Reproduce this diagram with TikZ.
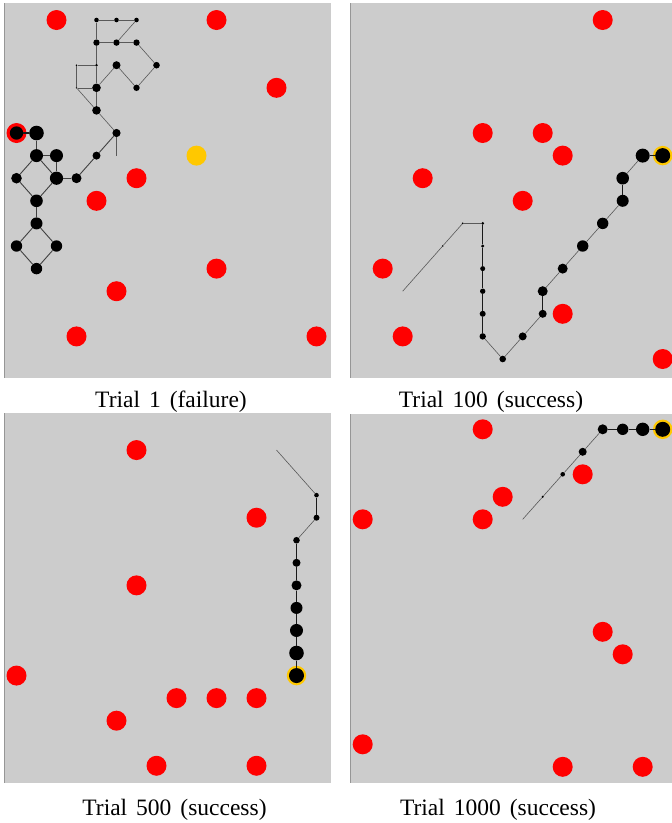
\documentclass[tikz,border=0pt]{standalone}
\usepackage{fontspec}
\setmainfont{Liberation Serif}
\definecolor{panelgray}{RGB}{204,204,204}
\definecolor{obsred}{RGB}{255,0,0}
\definecolor{goalyel}{RGB}{255,200,0}
\definecolor{bordergray}{RGB}{150,150,150}
\tikzset{
  panel/.style={fill=panelgray},
  obs/.style={circle, fill=obsred, inner sep=0pt, minimum size=20pt},
  goal/.style={circle, fill=goalyel, inner sep=0pt, minimum size=19.5pt},
  dot/.style={circle, fill=black, inner sep=0pt},
  thinline/.style={draw=black!65, line width=0.6pt},
  midline/.style={draw=black!75, line width=0.9pt},
  thickline/.style={draw=black!90, line width=1.3pt},
  captext/.style={font={\fontsize{23.5}{27}\selectfont\spaceskip=9pt plus 1pt}, inner sep=0pt, anchor=base}
}
\newcommand\dotat[4]{\node[dot,minimum size=#4pt] (#1) at (#2,#3) {};}
\newcommand\obsat[3]{\node[obs] (#1) at (#2,#3) {};}
\begin{document}
\begin{tikzpicture}[x=1pt,y=-1pt]
\path[use as bounding box] (0,0) rectangle (672,823);
% panels
\fill[panel] (4,3) rectangle (331,378);
\fill[panel] (350,3) rectangle (672,378);
\fill[panel] (4,413) rectangle (331,783);
\fill[panel] (350,414) rectangle (672,783);
\draw[bordergray, line width=0.8pt] (4.4,3) -- (4.4,378);
\draw[bordergray, line width=0.8pt] (350.4,3) -- (350.4,378);
\draw[bordergray, line width=0.8pt] (4.4,413) -- (4.4,783);
\draw[bordergray, line width=0.8pt] (350.4,414) -- (350.4,783);

% ---------------- Panel 1 ----------------
\begin{scope}[shift={(16.5,20)}, x=20pt, y=-22.6pt]
\obsat{ao1}{2}{0}
\obsat{ao2}{10}{0}
\obsat{ao3}{13}{3}
\obsat{ao4}{0}{5}
\obsat{ao5}{6}{7}
\obsat{ao6}{4}{8}
\obsat{ao7}{10}{11}
\obsat{ao8}{5}{12}
\obsat{ao9}{3}{14}
\obsat{ao10}{15}{14}
\node[goal, minimum size=20pt] (ag) at (9,6) {};
\coordinate (as) at (5,6);
\dotat{aa}{4}{0}{4.6}
\dotat{ab}{5}{0}{4.6}
\dotat{ac}{6}{0}{4.6}
\dotat{ad}{4}{1}{6.4}
\dotat{ae}{5}{1}{6.4}
\dotat{af}{6}{1}{6.4}
\dotat{ag2}{3}{2}{1.6}
\dotat{ah}{4}{2}{2.6}
\dotat{ak}{5}{2}{8}
\dotat{al}{7}{2}{6.6}
\dotat{am}{3}{3}{1.6}
\dotat{an}{4}{3}{8.6}
\dotat{ao}{6}{3}{6.4}
\dotat{ap}{4}{4}{8.6}
\dotat{aq}{5}{5}{8.2}
\dotat{at}{4}{6}{8}
\dotat{au}{3}{7}{10}
\dotat{av}{2}{7}{13.2}
\dotat{aw}{2}{6}{13}
\dotat{ax}{1}{6}{13}
\dotat{ay}{1}{5}{14.6}
\dotat{az}{0}{5}{13.4}
\dotat{aA}{0}{7}{10.6}
\dotat{aB}{1}{8}{12.6}
\dotat{aC}{1}{9}{12}
\dotat{aD}{0}{10}{11.4}
\dotat{aE}{2}{10}{11.4}
\dotat{aF}{1}{11}{11.4}
% edges
\draw[thinline] (as) -- (aq);
\draw[midline] (aq) -- (at);
\draw[thinline] (aq) -- (ap);
\draw[midline] (at) -- (au);
\draw[midline] (au) -- (av);
\draw[midline] (av) -- (aw);
\draw[midline] (av) -- (ax);
\draw[midline] (aw) -- (ax);
\draw[midline] (ax) -- (ay);
\draw[thickline] (ay) -- (az);
\draw[midline] (ax) -- (aA);
\draw[midline] (aA) -- (aB);
\draw[midline] (av) -- (aB);
\draw[midline] (aB) -- (aC);
\draw[midline] (aC) -- (aD);
\draw[midline] (aC) -- (aE);
\draw[midline] (aD) -- (aF);
\draw[midline] (aE) -- (aF);
\draw[thinline] (ap) -- (an);
\draw[thinline] (ap) -- (am);
\draw[thinline] (am) -- (an);
\draw[thinline] (am) -- (ag2);
\draw[thinline] (ag2) -- (ah);
\draw[thinline] (an) -- (ah);
\draw[thinline] (ah) -- (ad);
\draw[thinline] (ad) -- (aa);
\draw[thinline] (aa) -- (ab);
\draw[thinline] (ab) -- (ac);
\draw[thinline] (ac) -- (ae);
\draw[thinline] (ad) -- (ae);
\draw[thinline] (ae) -- (af);
\draw[thinline] (af) -- (al);
\draw[thinline] (al) -- (ao);
\draw[thinline] (ao) -- (ak);
\draw[thinline] (ak) -- (an);
\end{scope}

% ---------------- Panel 2 ----------------
\begin{scope}[shift={(362.7,20)}, x=20pt, y=-22.6pt]
\obsat{bo1}{12}{0}
\obsat{bo2}{6}{5}
\obsat{bo3}{9}{5}
\obsat{bo4}{10}{6}
\obsat{bo5}{3}{7}
\obsat{bo6}{8}{8}
\obsat{bo7}{1}{11}
\obsat{bo8}{10}{13}
\obsat{bo9}{2}{14}
\obsat{bo10}{15}{15}
\node[goal] (bg) at (15,6) {};
\coordinate (bs) at (2,12);
\dotat{b1}{4}{10}{1.8}
\dotat{b2}{5}{9}{2}
\dotat{b3}{6}{9}{3}
\dotat{b4}{6}{10}{3.4}
\dotat{b5}{6}{11}{5}
\dotat{b6}{6}{12}{5.4}
\dotat{b7}{6}{13}{6}
\dotat{b8}{6}{14}{6.4}
\dotat{b9}{7}{15}{6.6}
\dotat{b10}{8}{14}{8}
\dotat{b11}{9}{13}{8}
\dotat{b12}{9}{12}{10}
\dotat{b13}{10}{11}{10}
\dotat{b14}{11}{10}{11.4}
\dotat{b15}{12}{9}{11.4}
\dotat{b16}{13}{8}{12}
\dotat{b17}{13}{7}{12.6}
\dotat{b18}{14}{6}{14}
\dotat{b19}{15}{6}{15}
\draw[thinline] (bs) -- (b1);
\draw[thinline] (b1) -- (b2);
\draw[thinline] (b2) -- (b3);
\draw[thickline] (b3) -- (b4);
\draw[thickline] (b4) -- (b5);
\draw[thickline] (b5) -- (b6);
\draw[thickline] (b6) -- (b7);
\draw[thickline] (b7) -- (b8);
\draw[thinline] (b8) -- (b9);
\draw[thinline] (b9) -- (b10);
\draw[thinline] (b10) -- (b11);
\draw[thickline] (b11) -- (b12);
\draw[thinline] (b12) -- (b13);
\draw[thinline] (b13) -- (b14);
\draw[thinline] (b14) -- (b15);
\draw[thinline] (b15) -- (b16);
\draw[thickline] (b16) -- (b17);
\draw[thinline] (b17) -- (b18);
\draw[thickline] (b18) -- (b19);
\end{scope}

% ---------------- Panel 3 ----------------
\begin{scope}[shift={(16.5,427.5)}, x=20pt, y=-22.55pt]
\obsat{co1}{6}{1}
\obsat{co2}{12}{4}
\obsat{co3}{6}{7}
\obsat{co4}{0}{11}
\obsat{co5}{8}{12}
\obsat{co6}{10}{12}
\obsat{co7}{12}{12}
\obsat{co8}{5}{13}
\obsat{co9}{7}{15}
\obsat{co10}{12}{15}
\node[goal] (cg) at (14,11) {};
\coordinate (cs) at (13,1);
\dotat{c1}{15}{3}{4.6}
\dotat{c2}{15}{4}{6}
\dotat{c3}{14}{5}{6.6}
\dotat{c4}{14}{6}{8}
\dotat{c5}{14}{7}{10}
\dotat{c6}{14}{8}{12}
\dotat{c7}{14}{9}{13}
\dotat{c8}{14}{10}{14.6}
\dotat{c9}{14}{11}{15}
\draw[thinline] (cs) -- (c1);
\draw[thickline] (c1) -- (c2);
\draw[thinline] (c2) -- (c3);
\draw[thickline] (c3) -- (c4);
\draw[thickline] (c4) -- (c5);
\draw[thickline] (c5) -- (c6);
\draw[thickline] (c6) -- (c7);
\draw[thickline] (c7) -- (c8);
\draw[thickline] (c8) -- (c9);
\end{scope}

% ---------------- Panel 4 ----------------
\begin{scope}[shift={(362.7,429.3)}, x=20pt, y=-22.5pt]
\obsat{do1}{6}{0}
\obsat{do2}{11}{2}
\obsat{do3}{7}{3}
\obsat{do4}{6}{4}
\obsat{do5}{0}{4}
\obsat{do6}{12}{9}
\obsat{do7}{13}{10}
\obsat{do8}{0}{14}
\obsat{do9}{10}{15}
\obsat{do10}{14}{15}
\node[goal] (dg) at (15,0) {};
\coordinate (ds) at (8,4);
\dotat{d1}{9}{3}{2.4}
\dotat{d2}{10}{2}{4.6}
\dotat{d3}{11}{1}{8}
\dotat{d4}{12}{0}{10}
\dotat{d5}{13}{0}{11.4}
\dotat{d6}{14}{0}{13.4}
\dotat{d7}{15}{0}{15}
\draw[thinline] (ds) -- (d1);
\draw[thinline] (d1) -- (d2);
\draw[thinline] (d2) -- (d3);
\draw[thinline] (d3) -- (d4);
\draw[thickline] (d4) -- (d5);
\draw[thickline] (d5) -- (d6);
\draw[thickline] (d6) -- (d7);
\end{scope}

% captions
\node[captext] (cap1) at (171,407.5) {Trial 1 (failure)};
\node[captext] (cap2) at (491,407.5) {Trial 100 (success)};
\node[captext] (cap3) at (174.5,815) {Trial 500 (success)};
\node[captext] (cap4) at (498,815) {Trial 1000 (success)};
\end{tikzpicture}
\end{document}
